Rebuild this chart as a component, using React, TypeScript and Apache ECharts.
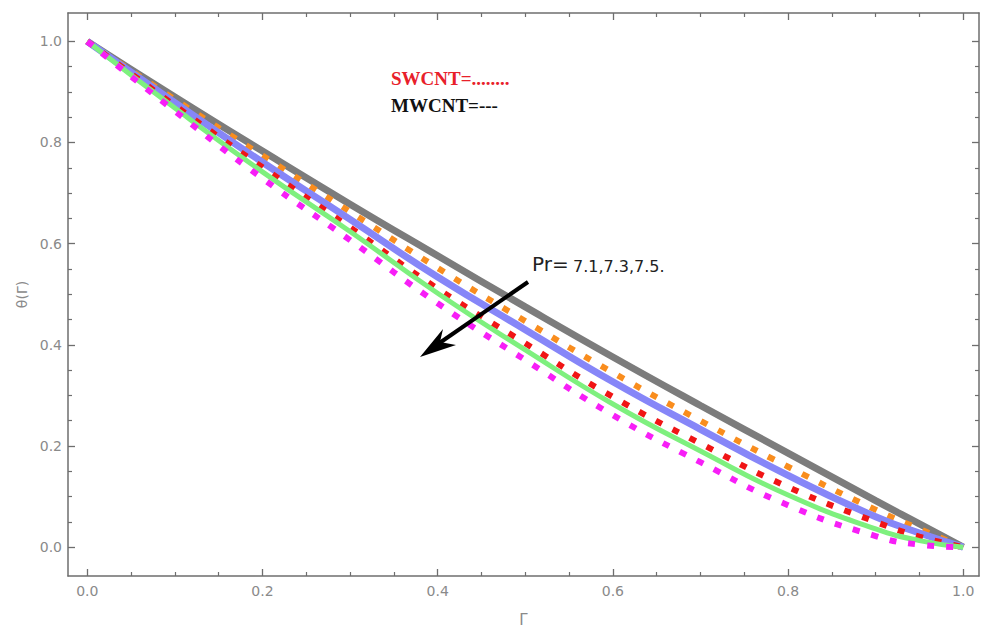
import React, { useEffect, useRef } from "react";
import * as echarts from "echarts";

// x positions (Γ) at which the curves were read
const gammaValues = [0, 0.1, 0.2, 0.3, 0.4, 0.5, 0.6, 0.7, 0.8, 0.9, 0.95, 1.0];

// θ(Γ) curves
const graySolid = [1, 0.89, 0.783, 0.678, 0.576, 0.475, 0.376, 0.28, 0.186, 0.092, 0.046, 0];
const orangeDotted = [1, 0.885, 0.774, 0.663, 0.552, 0.447, 0.345, 0.25, 0.159, 0.074, 0.036, 0];
const blueSolid = [1, 0.879, 0.761, 0.648, 0.534, 0.43, 0.327, 0.233, 0.142, 0.06, 0.028, 0];
const redDotted = [1, 0.873, 0.751, 0.632, 0.511, 0.403, 0.297, 0.205, 0.119, 0.05, 0.021, 0];
const greenSolid = [1, 0.868, 0.742, 0.624, 0.502, 0.39, 0.283, 0.19, 0.103, 0.036, 0.013, 0];
const magentaDotted = [1, 0.862, 0.729, 0.607, 0.482, 0.37, 0.261, 0.168, 0.083, 0.022, 0.005, 0];

// ticks
const majorTicks = [0, 0.2, 0.4, 0.6, 0.8, 1.0];
const minorTicks = [0.05, 0.1, 0.15, 0.25, 0.3, 0.35, 0.45, 0.5, 0.55, 0.65, 0.7, 0.75, 0.85, 0.9, 0.95];

const X_MIN = -0.022;
const X_MAX = 1.018;
const Y_MIN = -0.057;
const Y_MAX = 1.056;

const AXIS_COLOR = "#6e6e6e";
const LABEL_COLOR = "#8a8a8a";

const pairs = (ys: number[]) => gammaValues.map((x, i) => [x, ys[i]]);

function makeAxes(kind: "x" | "y") {
  const min = kind === "x" ? X_MIN : Y_MIN;
  const max = kind === "x" ? X_MAX : Y_MAX;
  const positions = kind === "x" ? ["bottom", "top"] : ["left", "right"];
  const axes: any[] = [];
  positions.forEach((pos, pi) => {
    // major
    axes.push({
      type: "value",
      position: pos,
      min,
      max,
      splitLine: { show: false },
      axisLine: { show: true, onZero: false, lineStyle: { color: AXIS_COLOR, width: 1.5 } },
      axisTick: {
        show: true,
        inside: true,
        length: 7,
        customValues: majorTicks,
        lineStyle: { color: AXIS_COLOR, width: 1.3 },
      },
      axisLabel: {
        show: pi === 0,
        customValues: majorTicks,
        formatter: (v: number) => v.toFixed(1),
        color: LABEL_COLOR,
        fontFamily: "DejaVu Sans",
        fontSize: 14,
        margin: kind === "x" ? 8 : 6,
      },
      ...(pi === 0
        ? kind === "x"
          ? {
              name: "Γ",
              nameLocation: "middle",
              nameGap: 36,
              nameTextStyle: { color: LABEL_COLOR, fontFamily: "DejaVu Sans", fontSize: 15 },
            }
          : {
              name: "θ(Γ)",
              nameLocation: "middle",
              nameGap: 24,
              nameRotate: 90,
              nameTextStyle: { color: LABEL_COLOR, fontFamily: "DejaVu Sans", fontSize: 14 },
            }
        : {}),
    });
    // minor
    axes.push({
      type: "value",
      position: pos,
      min,
      max,
      splitLine: { show: false },
      axisLine: { show: false, onZero: false },
      axisTick: {
        show: true,
        inside: true,
        length: 4,
        customValues: minorTicks,
        lineStyle: { color: AXIS_COLOR, width: 1.2 },
      },
      axisLabel: { show: false, customValues: minorTicks },
    });
  });
  return axes;
}

const base = (name: string, data: number[]) => ({
  name,
  type: "line",
  smooth: 0.5,
  showSymbol: false,
  xAxisIndex: 0,
  yAxisIndex: 0,
  data: pairs(data),
});

const solid = (name: string, data: number[], color: string, width: number) => ({
  ...base(name, data),
  lineStyle: { color, width, type: "solid" },
});

const dotted = (name: string, data: number[], color: string) => ({
  ...base(name, data),
  lineStyle: { color, width: 6, type: [7, 12], cap: "butt" },
});

export default function App() {
  const ref = useRef<HTMLDivElement>(null);
  useEffect(() => {
    if (!ref.current) return;
    const chart = echarts.init(ref.current, null, { renderer: "svg" });
    chart.setOption({
      animation: false,
      backgroundColor: "#ffffff",
      grid: { left: 68, right: 21, top: 13, bottom: 59, containLabel: false },
      xAxis: makeAxes("x"),
      yAxis: makeAxes("y"),
      series: [
        solid("MWCNT Pr=7.1", graySolid, "#7c7c7c", 7),
        dotted("SWCNT Pr=7.1", orangeDotted, "#f98d1e"),
        solid("MWCNT Pr=7.3", blueSolid, "#8686f8", 7),
        dotted("SWCNT Pr=7.3", redDotted, "#f01515"),
        solid("MWCNT Pr=7.5", greenSolid, "#7ef07e", 5),
        dotted("SWCNT Pr=7.5", magentaDotted, "#f71ef7"),
      ],
      graphic: [
        {
          type: "text",
          left: 391,
          top: 69,
          style: {
            text: "SWCNT=........",
            fill: "#e8202a",
            font: "bold 19px 'Liberation Serif', serif",
          },
        },
        {
          type: "text",
          left: 391,
          top: 96,
          style: {
            text: "MWCNT=---",
            fill: "#111111",
            font: "bold 19px 'Liberation Serif', serif",
          },
        },
        {
          type: "text",
          left: 532,
          top: 254,
          style: {
            text: "Pr=",
            fill: "#222222",
            font: "20px 'DejaVu Sans', sans-serif",
          },
        },
        {
          type: "text",
          left: 573,
          top: 258,
          style: {
            text: "7.1,7.3,7.5.",
            fill: "#222222",
            font: "16px 'DejaVu Sans', sans-serif",
          },
        },
        {
          type: "line",
          shape: { x1: 528, y1: 282, x2: 438, y2: 344 },
          style: { stroke: "#000000", lineWidth: 4 },
          z: 100,
        },
        {
          type: "polygon",
          shape: {
            points: [
              [420, 357],
              [443, 329],
              [440, 342],
              [456, 345],
            ],
          },
          style: { fill: "#000000" },
          z: 100,
        },
      ],
    });
    return () => chart.dispose();
  }, []);
  return (
    <div
      ref={ref}
      style={{ position: "absolute", left: 0, top: 0, width: 1000, height: 635, background: "#fff" }}
    />
  );
}
